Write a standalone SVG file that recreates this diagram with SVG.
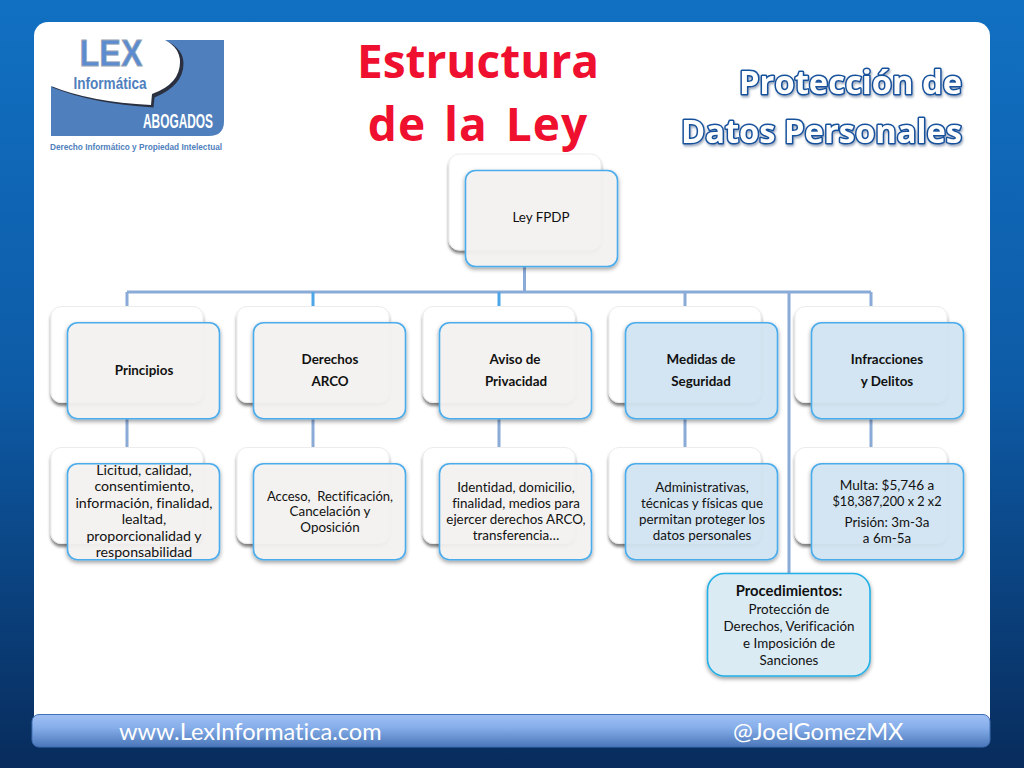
<svg xmlns="http://www.w3.org/2000/svg" width="1024" height="768" viewBox="0 0 1024 768">
<defs>
<linearGradient id="bg" x1="0" y1="0" x2="0" y2="1"><stop offset="0" stop-color="#1170c2"/><stop offset="0.5" stop-color="#0d5ba6"/><stop offset="1" stop-color="#082c5c"/></linearGradient>
<linearGradient id="bar" x1="0" y1="0" x2="0" y2="1"><stop offset="0" stop-color="#a0c0f4"/><stop offset="0.4" stop-color="#86aeea"/><stop offset="1" stop-color="#4a76b8"/></linearGradient>
<filter id="sh" x="-10%" y="-10%" width="120%" height="125%"><feDropShadow dx="0" dy="2" stdDeviation="2" flood-color="#000" flood-opacity="0.4"/></filter>
<filter id="shb" x="-10%" y="-10%" width="120%" height="125%"><feDropShadow dx="0" dy="3" stdDeviation="1.6" flood-color="#000" flood-opacity="0.5"/></filter>
<filter id="tsh" x="-5%" y="-10%" width="110%" height="125%"><feDropShadow dx="1" dy="2" stdDeviation="1.2" flood-color="#3a5a80" flood-opacity="0.5"/></filter>
<style>
text{font-family:Lato,"Open Sans","Liberation Sans",sans-serif;fill:#111;text-anchor:middle;font-variant-ligatures:none;white-space:pre}
.b{fill:#fff;stroke:#ececec;stroke-width:1;filter:url(#shb)}
.f{stroke:#4cacec;stroke-width:1.6;filter:url(#sh);fill-opacity:.93}
.g{fill:#f5f4f2}
.l{fill:#d4e6f4}
.t{font-size:13.4px}
.h{font-size:13.4px;font-weight:700}
.c{fill:none;stroke:#8aaad8;stroke-width:3}
.ti{font-family:"Open Sans",Lato,sans-serif;font-size:46px;font-weight:700;fill:#ef0f2e}
.pd{font-family:"Open Sans",Lato,sans-serif;font-size:32.700px;font-weight:700;fill:#fff;stroke:#17519c;stroke-width:3;paint-order:stroke;stroke-linejoin:round;text-anchor:end;filter:url(#tsh)}
.ft{font-size:23.6px;fill:#fff;text-anchor:start}
.lg{font-family:"Liberation Sans",sans-serif;font-weight:700}
</style>
</defs>
<rect width="1024" height="768" fill="url(#bg)"/>
<rect x="34" y="22" width="956" height="710" rx="14" fill="#fff"/>
<g id="logo">
<path d="M51 40H224V121Q224 136 209 136H51Z" fill="#4f80bd"/>
<path d="M51 86Q90 102 152 106L153 96Q182 84 182 62Q182 48 166 40H51Z" fill="#2a3040" transform="translate(1.5,1.5)"/>
<path d="M51 86Q90 102 151 105L152 94Q180 84 180 62Q180 48 165 40H51Z" fill="#fff"/>
<text class="lg" x="111" y="66" style="font-size:36px;fill:#5b8bd0;stroke:#9aa5b2;stroke-width:.8" textLength="63" lengthAdjust="spacingAndGlyphs">LEX</text>
<text class="lg" x="110" y="89" style="font-size:16px;fill:#4f80bd" textLength="73" lengthAdjust="spacingAndGlyphs">Informática</text>
<text class="lg" x="178" y="128" style="font-size:20px;fill:#fff" textLength="70" lengthAdjust="spacingAndGlyphs">ABOGADOS</text>
<text class="lg" x="136" y="150" style="font-size:9.500px;fill:#4f80bd" textLength="172" lengthAdjust="spacingAndGlyphs">Derecho Informático y Propiedad Intelectual</text>
</g>
<g id="title">
<text class="ti" x="478" y="78">Estructura</text>
<text class="ti" x="478" y="141" style="word-spacing:5px;letter-spacing:1px">de la Ley</text>
</g>
<g id="subtitle">
<text class="pd" x="962" y="94">Protección de</text>
<text class="pd" x="962" y="143">Datos Personales</text>
</g>
<g id="connectors">
<path class="c" d="M524.5 267V292M127 292H871M127 292V307M685 292V307M871 292V307M789 292V574"/>
<path d="M313 292V307M499 292V307" fill="none" stroke="#4da6e8" stroke-width="3"/>
<path class="c" d="M127 419V448M313 419V448M499 419V448M685 419V448M871 419V448"/>
</g>
<g id="n-ley"><rect class="b" x="449" y="154" width="152" height="96" rx="10"/><rect class="f g" x="465.500" y="170.500" width="152" height="96" rx="10"/><text class="t" x="541" y="222">Ley FPDP</text></g>
<g id="n-principios"><rect class="b" x="51" y="306.500" width="152" height="96" rx="10"/><rect class="f g" x="67.500" y="322.700" width="152" height="96" rx="10"/><text class="h" x="144" y="375">Principios</text></g>
<g id="n-derechos"><rect class="b" x="237" y="306.500" width="152" height="96" rx="10"/><rect class="f g" x="253.500" y="322.700" width="152" height="96" rx="10"/><text class="h" x="330" y="364">Derechos</text><text class="h" x="330" y="386">ARCO</text></g>
<g id="n-aviso"><rect class="b" x="423" y="306.500" width="152" height="96" rx="10"/><rect class="f g" x="439.500" y="322.700" width="152" height="96" rx="10"/><text class="h" x="515" y="364">Aviso de</text><text class="h" x="516" y="386">Privacidad</text></g>
<g id="n-medidas"><rect class="b" x="609" y="306.500" width="152" height="96" rx="10"/><rect class="f l" x="625.500" y="322.700" width="152" height="96" rx="10"/><text class="h" x="701" y="364">Medidas de</text><text class="h" x="701" y="386">Seguridad</text></g>
<g id="n-infracciones"><rect class="b" x="795" y="306.500" width="152" height="96" rx="10"/><rect class="f l" x="811.500" y="322.700" width="152" height="96" rx="10"/><text class="h" x="887" y="364">Infracciones</text><text class="h" x="887" y="386">y Delitos</text></g>
<g id="n-licitud"><rect class="b" x="51" y="447.500" width="152" height="96" rx="10"/><rect class="f g" x="67.500" y="463.700" width="152" height="96" rx="10"/><g style="font-size:14.2px"><text x="144" y="475">Licitud, calidad,</text><text x="144" y="491">consentimiento,</text><text x="144" y="508">información, finalidad,</text><text x="144" y="524">lealtad,</text><text x="144" y="541">proporcionalidad y</text><text x="144" y="557">responsabilidad</text></g></g>
<g id="n-acceso"><rect class="b" x="237" y="447.500" width="152" height="96" rx="10"/><rect class="f g" x="253.500" y="463.700" width="152" height="96" rx="10"/><text class="t" x="330" y="501" style="font-size:13px">Acceso,  Rectificación,</text><text class="t" x="330" y="516">Cancelación y</text><text class="t" x="330" y="532">Oposición</text></g>
<g id="n-identidad"><rect class="b" x="423" y="447.500" width="152" height="96" rx="10"/><rect class="f g" x="439.500" y="463.700" width="152" height="96" rx="10"/><text class="t" x="516" y="492">Identidad, domicilio,</text><text class="t" x="516" y="508">finalidad, medios para</text><text class="t" x="516" y="524">ejercer derechos ARCO,</text><text class="t" x="516" y="540">transferencia…</text></g>
<g id="n-administrativas"><rect class="b" x="609" y="447.500" width="152" height="96" rx="10"/><rect class="f l" x="625.500" y="463.700" width="152" height="96" rx="10"/><text class="t" x="702" y="492">Administrativas,</text><text class="t" x="702" y="508">técnicas y físicas que</text><text class="t" x="702" y="524">permitan proteger los</text><text class="t" x="702" y="540">datos personales</text></g>
<g id="n-multa"><rect class="b" x="795" y="447.500" width="152" height="96" rx="10"/><rect class="f l" x="811.500" y="463.700" width="152" height="96" rx="10"/><text class="t" x="887" y="490" style="font-size:13.6px">Multa: $5,746 a</text><text class="t" x="887" y="506" style="font-size:12.7px">$18,387,200 x 2 x2</text><text class="t" x="887" y="527">Prisión: 3m-3a</text><text class="t" x="887" y="543">a 6m-5a</text></g>
<g id="n-procedimientos"><rect x="707.500" y="573.500" width="162.500" height="102.500" rx="17" fill="#daebf4" stroke="#22b0e6" stroke-width="1.6" filter="url(#sh)"/><text class="h" x="789" y="596" style="font-size:14.8px">Procedimientos:</text><text class="t" x="789" y="614">Protección de</text><text class="t" x="789" y="631">Derechos, Verificación</text><text class="t" x="789" y="648">e Imposición de</text><text class="t" x="789" y="665">Sanciones</text></g>
<g id="footer"><rect x="32" y="714.500" width="958" height="32.500" rx="7" fill="url(#bar)" stroke="#3f70b5" stroke-width="1"/><text class="ft" x="119" y="740">www.LexInformatica.com</text><text class="ft" x="733" y="740">@JoelGomezMX</text></g>
</svg>
